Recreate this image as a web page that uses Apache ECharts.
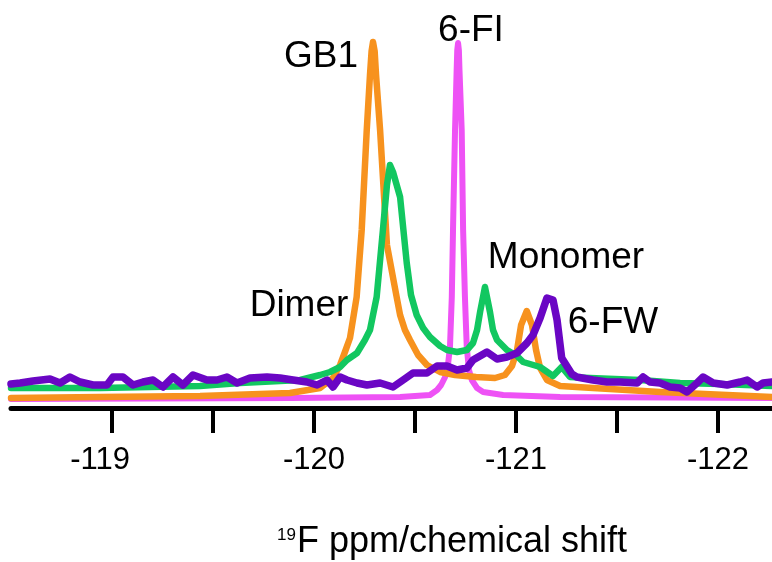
<!DOCTYPE html>
<html>
<head>
<meta charset="utf-8">
<title>19F NMR</title>
<script src="https://cdn.jsdelivr.net/npm/echarts@6/dist/echarts.min.js"></script>
<style>
  html, body { margin: 0; padding: 0; background: #fff; }
  #chart { width: 772px; height: 562px; }
</style>
</head>
<body>
<div id="chart"></div>
<script>
// chemical shift (ppm) and intensity (arbitrary units)
const gb1Ppm = [-118.500, -118.941, -119.436, -119.881, -120.030, -120.094, -120.129, -120.153, -120.178, -120.211,
  -120.236, -120.261, -120.277, -120.285, -120.292, -120.300, -120.307, -120.327, -120.361, -120.409, -120.426,
  -120.450, -120.475, -120.515, -120.559, -120.624, -120.698, -120.802, -120.896, -120.945, -120.980, -121.005,
  -121.025, -121.053, -121.079, -121.099, -121.119, -121.153, -121.218, -121.381, -121.713, -122.267];
const gb1Int = [10, 11, 12, 15, 20, 30, 43, 56, 70, 111,
  178, 278, 333, 357, 366, 357, 333, 278, 163, 111, 93,
  78, 68, 53, 43, 36, 33, 31, 30, 33, 42, 58,
  83, 97, 83, 58, 40, 28, 22, 20, 16, 11];

const dimerPpm = [-118.500, -118.941, -119.436, -119.634, -119.931, -120.030, -120.079, -120.129, -120.163, -120.213,
  -120.252, -120.277, -120.310, -120.341, -120.361, -120.376, -120.391, -120.426, -120.459, -120.480, -120.508,
  -120.540, -120.574, -120.624, -120.658, -120.708, -120.757, -120.787, -120.807, -120.822, -120.846, -120.871,
  -120.886, -120.906, -120.955, -121.005, -121.035, -121.119, -121.183, -121.226, -121.267, -121.366, -121.614,
  -121.812, -122.010, -122.267];
const dimerInt = [20, 20, 22, 25, 28, 33, 36, 41, 48, 55,
  68, 78, 111, 178, 223, 243, 236, 211, 145, 113, 93,
  80, 71, 62, 58, 56, 58, 65, 78, 96, 121, 96,
  78, 68, 58, 52, 46, 41, 32, 41, 31, 30, 28,
  25, 24, 22];

const fiPpm = [-118.500, -119.881, -120.426, -120.574, -120.609, -120.629, -120.649, -120.663, -120.673, -120.682,
  -120.688, -120.698, -120.706, -120.709, -120.713, -120.717, -120.720, -120.731, -120.738, -120.747, -120.756,
  -120.767, -120.781, -120.807, -120.837, -120.936, -121.218, -122.267];
const fiInt = [9, 10, 11, 13, 18, 23, 31, 43, 61, 111,
  178, 278, 338, 358, 365, 358, 338, 278, 178, 111, 61,
  38, 28, 20, 16, 13, 11, 10];

const fwPpm = [-118.500, -118.545, -118.609, -118.693, -118.743, -118.792, -118.842, -118.906, -118.975, -119.005,
  -119.054, -119.104, -119.153, -119.203, -119.252, -119.302, -119.351, -119.401, -119.470, -119.520, -119.569,
  -119.619, -119.683, -119.767, -119.832, -119.896, -119.965, -120.015, -120.064, -120.094, -120.129, -120.163,
  -120.213, -120.262, -120.327, -120.391, -120.441, -120.490, -120.559, -120.609, -120.658, -120.708, -120.757,
  -120.787, -120.856, -120.906, -120.955, -121.005, -121.054, -121.084, -121.119, -121.153, -121.183, -121.203,
  -121.226, -121.251, -121.276, -121.300, -121.381, -121.450, -121.515, -121.599, -121.629, -121.663, -121.713,
  -121.762, -121.812, -121.846, -121.896, -121.926, -121.976, -122.045, -122.109, -122.144, -122.193, -122.223,
  -122.267];
const fwInt = [24, 25, 27, 29, 25, 31, 26, 23, 23, 31,
  31, 23, 26, 28, 21, 31, 23, 33, 28, 28, 31,
  25, 30, 31, 30, 28, 26, 23, 28, 21, 31, 28,
  25, 23, 25, 21, 28, 35, 35, 42, 42, 38, 40,
  48, 56, 49, 51, 55, 65, 73, 90, 110, 108, 88,
  50, 42, 34, 31, 28, 26, 26, 25, 31, 26, 25,
  21, 20, 16, 25, 31, 25, 23, 26, 28, 21, 25,
  26];

const tickValues = [-119, -119.5, -120, -120.5, -121, -121.5, -122];
const labelValues = [-119, -120, -121, -122];

const zip = (xs, ys) => xs.map((x, i) => [x, ys[i]]);

const chart = echarts.init(document.getElementById('chart'));
const font = 'Liberation Sans, Arial, Helvetica, sans-serif';

const line = (name, color, width, xs, ys) => ({
  name: name,
  type: 'line',
  data: zip(xs, ys),
  showSymbol: false,
  symbol: 'none',
  lineStyle: { color: color, width: width, cap: 'round', join: 'round' }
});

const label = (text, x, y) => ({
  type: 'text', x: x, y: y,
  style: { text: text, font: '37px ' + font, fill: '#000', textAlign: 'center', textVerticalAlign: 'middle' }
});

chart.setOption({
  animation: false,
  grid: { left: 11, right: 0, top: 0, bottom: 154 },
  xAxis: {
    type: 'value',
    inverse: true,
    min: -122.267,
    max: -118.5,
    axisLine: { lineStyle: { color: '#000', width: 5 } },
    axisTick: { customValues: tickValues, length: 25, lineStyle: { color: '#000', width: 4 } },
    axisLabel: {
      customValues: labelValues,
      color: '#000',
      fontSize: 31,
      fontFamily: font,
      margin: 37,
      // the first label sits a little left of its tick in the original
      formatter: v => (v === -119 ? '{first|' + v + '}' : String(v)),
      rich: { first: { fontSize: 31, fontFamily: font, color: '#000', padding: [0, 24, 0, 0] } }
    },
    splitLine: { show: false }
  },
  yAxis: { type: 'value', min: 0, max: 408, show: false },
  series: [
    line('6-FI', '#EE52F5', 6, fiPpm, fiInt),
    line('GB1', '#F7921E', 6.5, gb1Ppm, gb1Int),
    line('Dimer/Monomer', '#12C760', 6.5, dimerPpm, dimerInt),
    line('6-FW', '#6A06C4', 7.5, fwPpm, fwInt)
  ],
  graphic: [
    label('GB1', 321, 57),
    label('6-FI', 471, 31),
    label('Monomer', 566, 258),
    label('6-FW', 613, 323),
    label('Dimer', 299, 306),
    {
      type: 'text', x: 452, y: 542,
      style: {
        text: '{sup|19}{m|F ppm/chemical shift}',
        textAlign: 'center', textVerticalAlign: 'middle', fill: '#000',
        rich: {
          sup: { fontSize: 17, fontFamily: font, verticalAlign: 'top', lineHeight: 36, padding: [3, 1, 0, 0] },
          m: { fontSize: 36, fontFamily: font, lineHeight: 36 }
        }
      }
    }
  ]
});
</script>
</body>
</html>
